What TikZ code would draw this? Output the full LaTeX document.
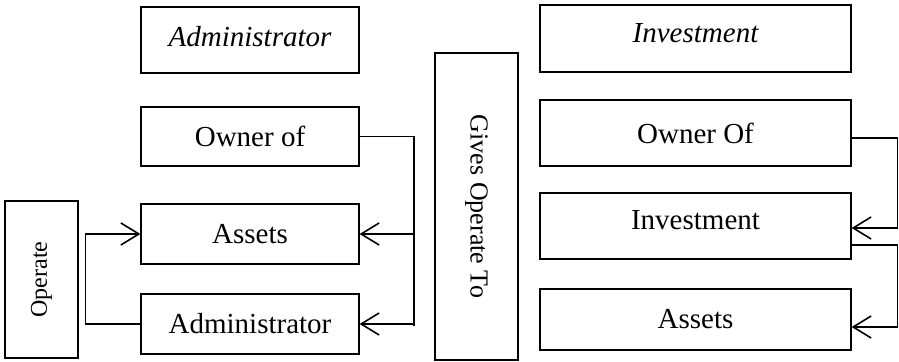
\documentclass[tikz,border=0pt]{standalone}
\usepackage{fontspec}
\setmainfont{Liberation Serif}
\usetikzlibrary{arrows.meta,positioning}
\tikzstyle{block} = [draw,line width=0.6pt,rectangle,inner sep=0,font=\fontsize{14.5}{17}\selectfont]
\tikzstyle{link} = [-,line width=0.8pt]
\tikzstyle{feed} = [link,-{Straight Barb[length=9pt,width=11pt,line width=0.8pt]}]
\def \bw {109pt}

\begin{document}
\begin{tikzpicture}[x=0.5pt,y=-0.5pt]
      \useasboundingbox (0,0) rectangle (899,362);
      % administrator model
      \node[block,minimum width=\bw,minimum height=33pt] (admT) at (250,40) {};
      \node[font=\fontsize{14.5}{17}\selectfont\itshape] (admTx) at ([yshift=1.5pt]admT.center) {Administrator};
      \node[block,minimum width=\bw,minimum height=29.5pt] (ownA) at (250,136.5) {Owner of};
      \node[block,minimum width=\bw,minimum height=30pt] (assA) at (250,234) {Assets};
      \node[block,minimum width=\bw,minimum height=30pt] (admA) at (250,324) {Administrator};
      \node[block,minimum width=36.5pt,minimum height=78.5pt] (oper) at (41.5,279.5) {};
      \node[rotate=90,font=\fontsize{12}{14}\selectfont] (operTx) at (oper.center) {Operate};
      % middle
      \node[block,minimum width=41.5pt,minimum height=153.5pt] (gives) at (476.5,206.5) {};
      \node[rotate=-90,font=\fontsize{13}{15}\selectfont] (givesTx) at (gives.center) {Gives Operate To};
      % investment company model
      \node[block,minimum width=155.5pt,minimum height=33.5pt] (invT) at (695.5,38.5) {};
      \node[font=\fontsize{14.5}{17}\selectfont\itshape] (invTx) at ([yshift=2.5pt]invT.center) {Investment};
      \node[block,minimum width=155.5pt,minimum height=33pt] (ownB) at (695.5,133) {Owner Of};
      \node[block,minimum width=155.5pt,minimum height=33pt] (invB) at (695.5,226) {};
      \node[font=\fontsize{14.5}{17}\selectfont] (invBTx) at ([yshift=3pt]invB.center) {Investment};
      \node[block,minimum width=155.5pt,minimum height=30.5pt] (assB) at (695.5,319.5) {Assets};
      % connectors
      \coordinate (busA) at (414,0);
      \coordinate (busB) at (897.5,0);
      \draw[feed] (admA.west) -- ++(-55,0) |- (assA.west);
      \draw[link] (ownA.east) -| (busA |- 0,326);
      \draw[feed] (busA |- assA.east) -- (assA.east);
      \draw[feed] (busA |- admA.east) -- (admA.east);
      \draw[feed] (ownB.east |- 0,138) -| (busB |- 0,228) -- (invB.east |- 0,228);
      \draw[feed] (invB.east |- 0,245) -| (busB |- 0,327) -- (assB.east |- 0,327);
    \end{tikzpicture}
\end{document}
